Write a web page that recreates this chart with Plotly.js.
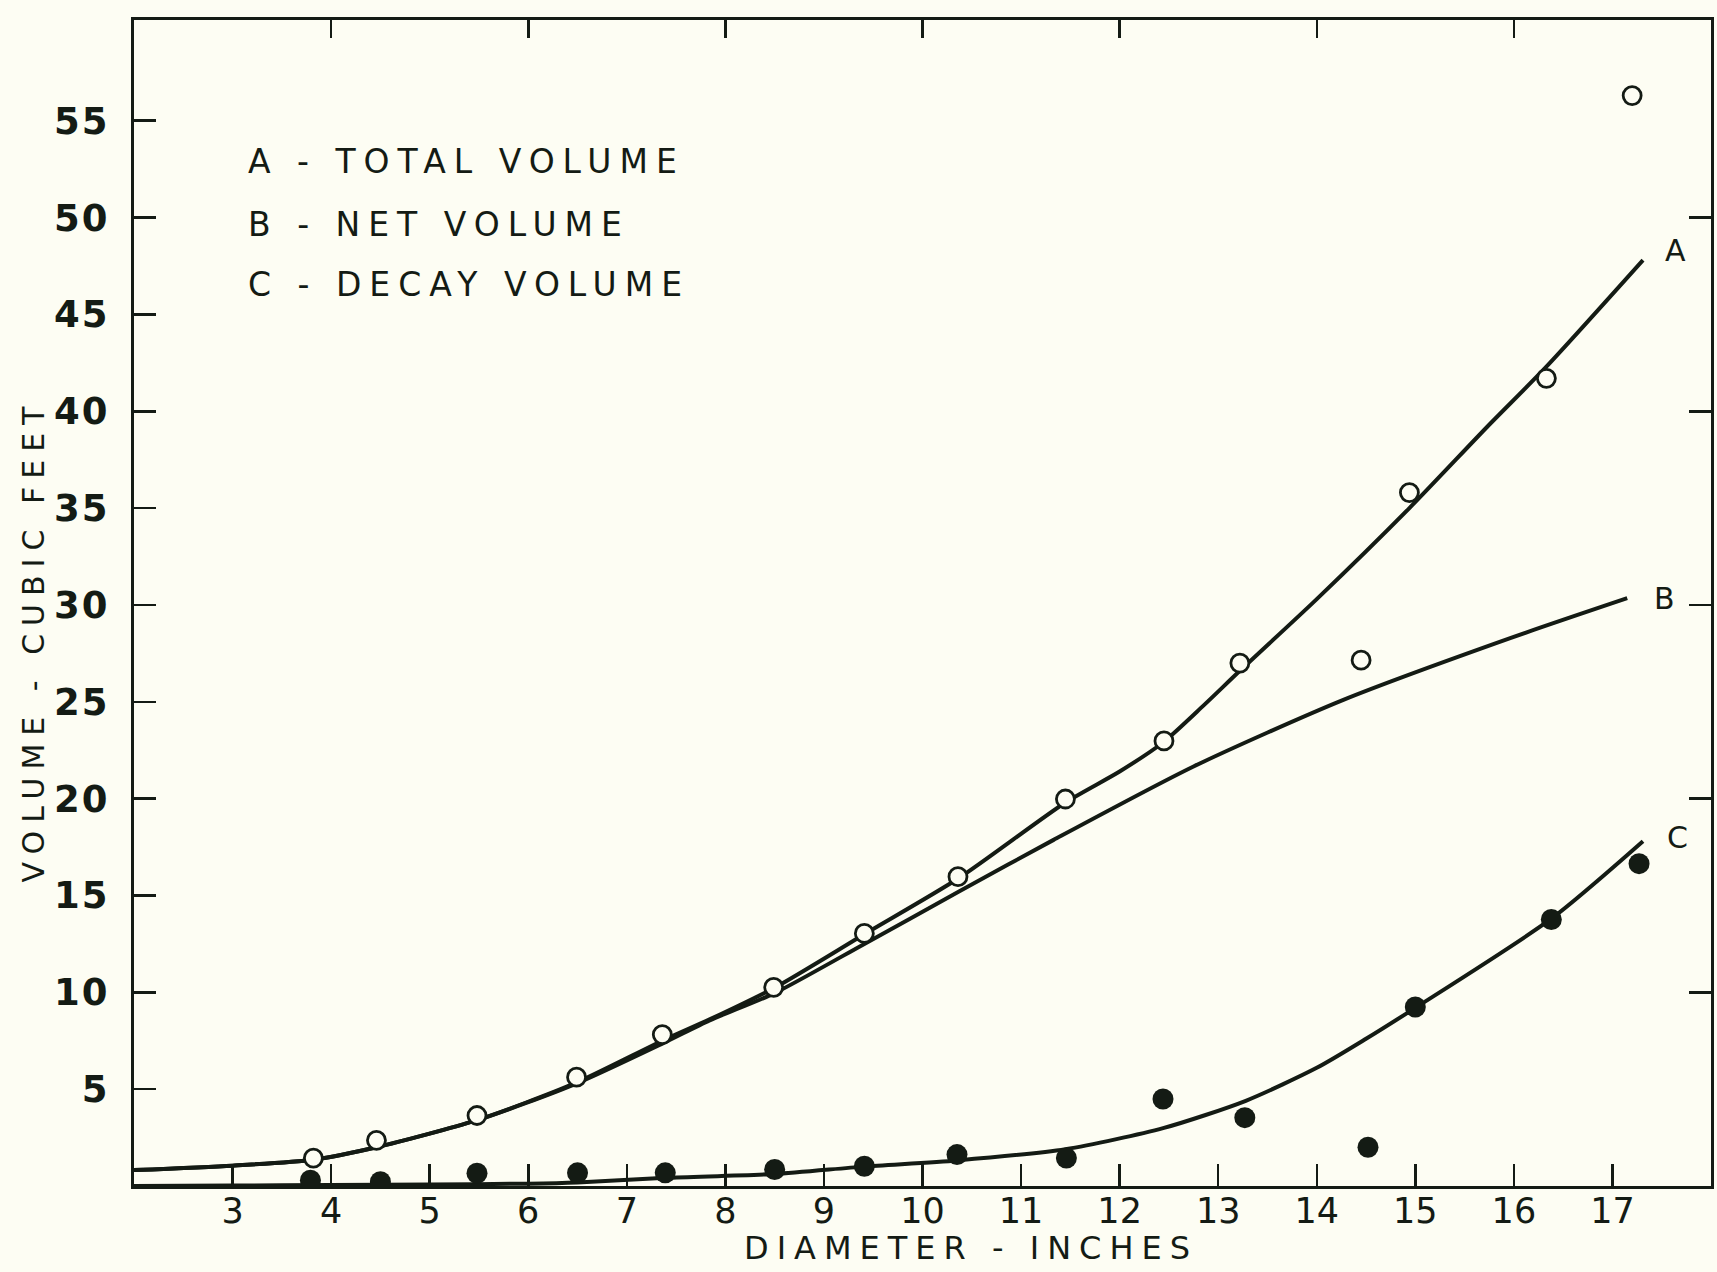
<!DOCTYPE html>
<html>
<head>
<meta charset="utf-8">
<script src="https://cdn.plot.ly/plotly-3.0.1.min.js"></script>
<style>
  html, body { margin: 0; padding: 0; background: #fdfdf3; }
  #chart { width: 1717px; height: 1272px; }
  .annotation-text { letter-spacing: 8px; }
  .ytick text { letter-spacing: 2px; }
</style>
</head>
<body>
<div id="chart"></div>
<script>
// ---- Data ----
const xTickVals = [3, 4, 5, 6, 7, 8, 9, 10, 11, 12, 13, 14, 15, 16, 17];
const xTickText = ["3", "4", "5", "6", "7", "8", "9", "10", "11", "12", "13", "14", "15", "16", "17"];
const yTickVals = [5, 10, 15, 20, 25, 30, 35, 40, 45, 50, 55];
const yTickText = ["5", "10", "15", "20", "25", "30", "35", "40", "45", "50", "55"];
const topTickVals = [4, 6, 8, 10, 12, 14, 16];
const rightTickVals = [10, 20, 30, 40, 50];

// Observed total volume (open circles)
const totalX = [3.82, 4.46, 5.48, 6.49, 7.36, 8.49, 9.41, 10.36, 11.45, 12.45, 13.22, 14.45, 14.94, 16.33, 17.20];
const totalY = [1.44, 2.36, 3.64, 5.62, 7.82, 10.26, 13.04, 15.97, 19.98, 22.98, 27.0, 27.15, 35.8, 41.7, 56.3];

// Observed decay volume (filled circles)
const decayX = [3.79, 4.50, 5.48, 6.50, 7.39, 8.50, 9.41, 10.35, 11.46, 12.44, 13.27, 14.52, 15.0, 16.38, 17.27];
const decayY = [0.30, 0.22, 0.66, 0.68, 0.68, 0.85, 1.02, 1.62, 1.44, 4.49, 3.53, 2.0, 9.24, 13.76, 16.64];

// Fitted curve A - total volume
const curveAX = [2, 3, 3.82, 4.46, 5.48, 6.47, 7.36, 7.84, 8.5, 9.41, 10.37, 11.45, 12.0, 12.44, 12.85, 13.22, 14.0, 14.94, 15.73, 16.33, 17.31];
const curveAY = [0.82, 1.05, 1.36, 2.0, 3.4, 5.3, 7.5, 8.6, 10.24, 13.0, 15.9, 19.8, 21.4, 22.9, 24.8, 26.6, 30.3, 35.0, 39.2, 42.3, 47.8];

// Fitted curve B - net volume
const curveBX = [2, 3, 3.82, 4.46, 5.48, 6.47, 7.36, 7.84, 8.5, 9.41, 10.37, 11.33, 12.75, 14.27, 15.97, 17.15];
const curveBY = [0.82, 1.05, 1.36, 2.0, 3.4, 5.25, 7.35, 8.55, 9.96, 12.5, 15.2, 17.87, 21.66, 25.1, 28.3, 30.35];

// Fitted curve C - decay volume
const curveCX = [2, 3, 4, 5, 6, 6.5, 7.4, 8.5, 9.4, 10.35, 11.45, 12.45, 13.28, 14.0, 14.5, 15.0, 16.38, 17.31];
const curveCY = [0.0, 0.02, 0.05, 0.08, 0.12, 0.18, 0.42, 0.62, 1.0, 1.32, 1.9, 3.0, 4.4, 6.1, 7.6, 9.2, 13.8, 17.8];

const legendLines = ["A - TOTAL VOLUME", "B - NET VOLUME", "C - DECAY VOLUME"];
const curveLabels = ["A", "B", "C"];
const xTitle = "DIAMETER - INCHES";
const yTitle = "VOLUME - CUBIC FEET";

// ---- Styling ----
const ink = "#141b14";
const paper = "#fdfdf3";
const fontFam = "DejaVu Sans, Liberation Sans, sans-serif";

const lineStyle = { color: ink, width: 4, shape: "spline", smoothing: 0.7 };

const traces = [
  { x: curveAX, y: curveAY, mode: "lines", line: lineStyle, hoverinfo: "skip", showlegend: false },
  { x: curveBX, y: curveBY, mode: "lines", line: lineStyle, hoverinfo: "skip", showlegend: false },
  { x: curveCX, y: curveCY, mode: "lines", line: lineStyle, hoverinfo: "skip", showlegend: false },
  { x: totalX, y: totalY, mode: "markers", showlegend: false,
    marker: { symbol: "circle", size: 18, color: paper, line: { color: ink, width: 2.8 } } },
  { x: decayX, y: decayY, mode: "markers", showlegend: false,
    marker: { symbol: "circle", size: 21, color: ink, line: { color: ink, width: 0 } } },
  { x: [], y: [], xaxis: "x2", yaxis: "y2", mode: "markers", showlegend: false },
  { x: [], y: [], xaxis: "x3", yaxis: "y", mode: "markers", showlegend: false }
];

const annotations = [];
const legendY = [0.879, 0.8245, 0.773];
legendLines.forEach((t, i) => {
  annotations.push({
    text: t, xref: "paper", yref: "paper", x: 0.071, y: legendY[i],
    xanchor: "left", yanchor: "middle", showarrow: false,
    font: { family: fontFam, size: 33, color: ink }
  });
});
const ends = [
  [curveAX, curveAY, 20, 10],
  [curveBX, curveBY, 25, 0],
  [curveCX, curveCY, 22, 4]
];
ends.forEach((e, i) => {
  const n = e[0].length - 1;
  annotations.push({
    text: curveLabels[i], x: e[0][n], y: e[1][n], xref: "x", yref: "y",
    xanchor: "left", yanchor: "middle", xshift: e[2], yshift: e[3], showarrow: false,
    font: { family: fontFam, size: 30, color: ink }
  });
});
// axis titles
annotations.push({
  text: xTitle, xref: "paper", yref: "paper", x: 0.531, y: -0.053,
  xanchor: "center", yanchor: "middle", showarrow: false,
  font: { family: fontFam, size: 32, color: ink }
});
annotations.push({
  text: yTitle, xref: "paper", yref: "paper", x: -0.064, y: 0.468, textangle: -90,
  xanchor: "center", yanchor: "middle", showarrow: false,
  font: { family: fontFam, size: 30, color: ink }
});

const layout = {
  width: 1717, height: 1272,
  paper_bgcolor: paper, plot_bgcolor: paper,
  margin: { l: 134, r: 6, t: 20, b: 86 },
  showlegend: false,
  font: { family: fontFam, color: ink },
  xaxis: {
    range: [2, 18], tickmode: "array", tickvals: xTickVals, showticklabels: false,
    ticks: "inside", ticklen: 22, tickwidth: 2.5, tickcolor: ink,
    showline: true, linewidth: 3, linecolor: ink, showgrid: false, zeroline: false
  },
  xaxis3: {
    overlaying: "x", anchor: "free", position: 0, side: "bottom", range: [2, 18],
    tickmode: "array", tickvals: xTickVals, ticktext: xTickText, ticks: "",
    showline: false, showgrid: false, zeroline: false,
    tickfont: { family: fontFam, size: 35, color: ink }, ticklabelstandoff: 1
  },
  xaxis2: {
    overlaying: "x", side: "top", anchor: "y", range: [2, 18],
    tickmode: "array", tickvals: topTickVals, showticklabels: false,
    ticks: "inside", ticklen: 18, tickwidth: 2.5, tickcolor: ink,
    showline: true, linewidth: 3, linecolor: ink, showgrid: false, zeroline: false
  },
  yaxis: {
    range: [0, 60.2], tickmode: "array", tickvals: yTickVals, ticktext: yTickText,
    ticks: "inside", ticklen: 22, tickwidth: 2.5, tickcolor: ink,
    showline: true, linewidth: 3, linecolor: ink, showgrid: false, zeroline: false,
    tickfont: { family: fontFam, size: 37, color: ink, weight: "bold" }, ticklabelstandoff: 14
  },
  yaxis2: {
    overlaying: "y", side: "right", anchor: "x", range: [0, 60.2],
    tickmode: "array", tickvals: rightTickVals, showticklabels: false,
    ticks: "inside", ticklen: 22, tickwidth: 2.5, tickcolor: ink,
    showline: true, linewidth: 3, linecolor: ink, showgrid: false, zeroline: false
  },
  annotations: annotations
};

Plotly.newPlot("chart", traces, layout, { staticPlot: true, displayModeBar: false });
</script>
</body>
</html>
